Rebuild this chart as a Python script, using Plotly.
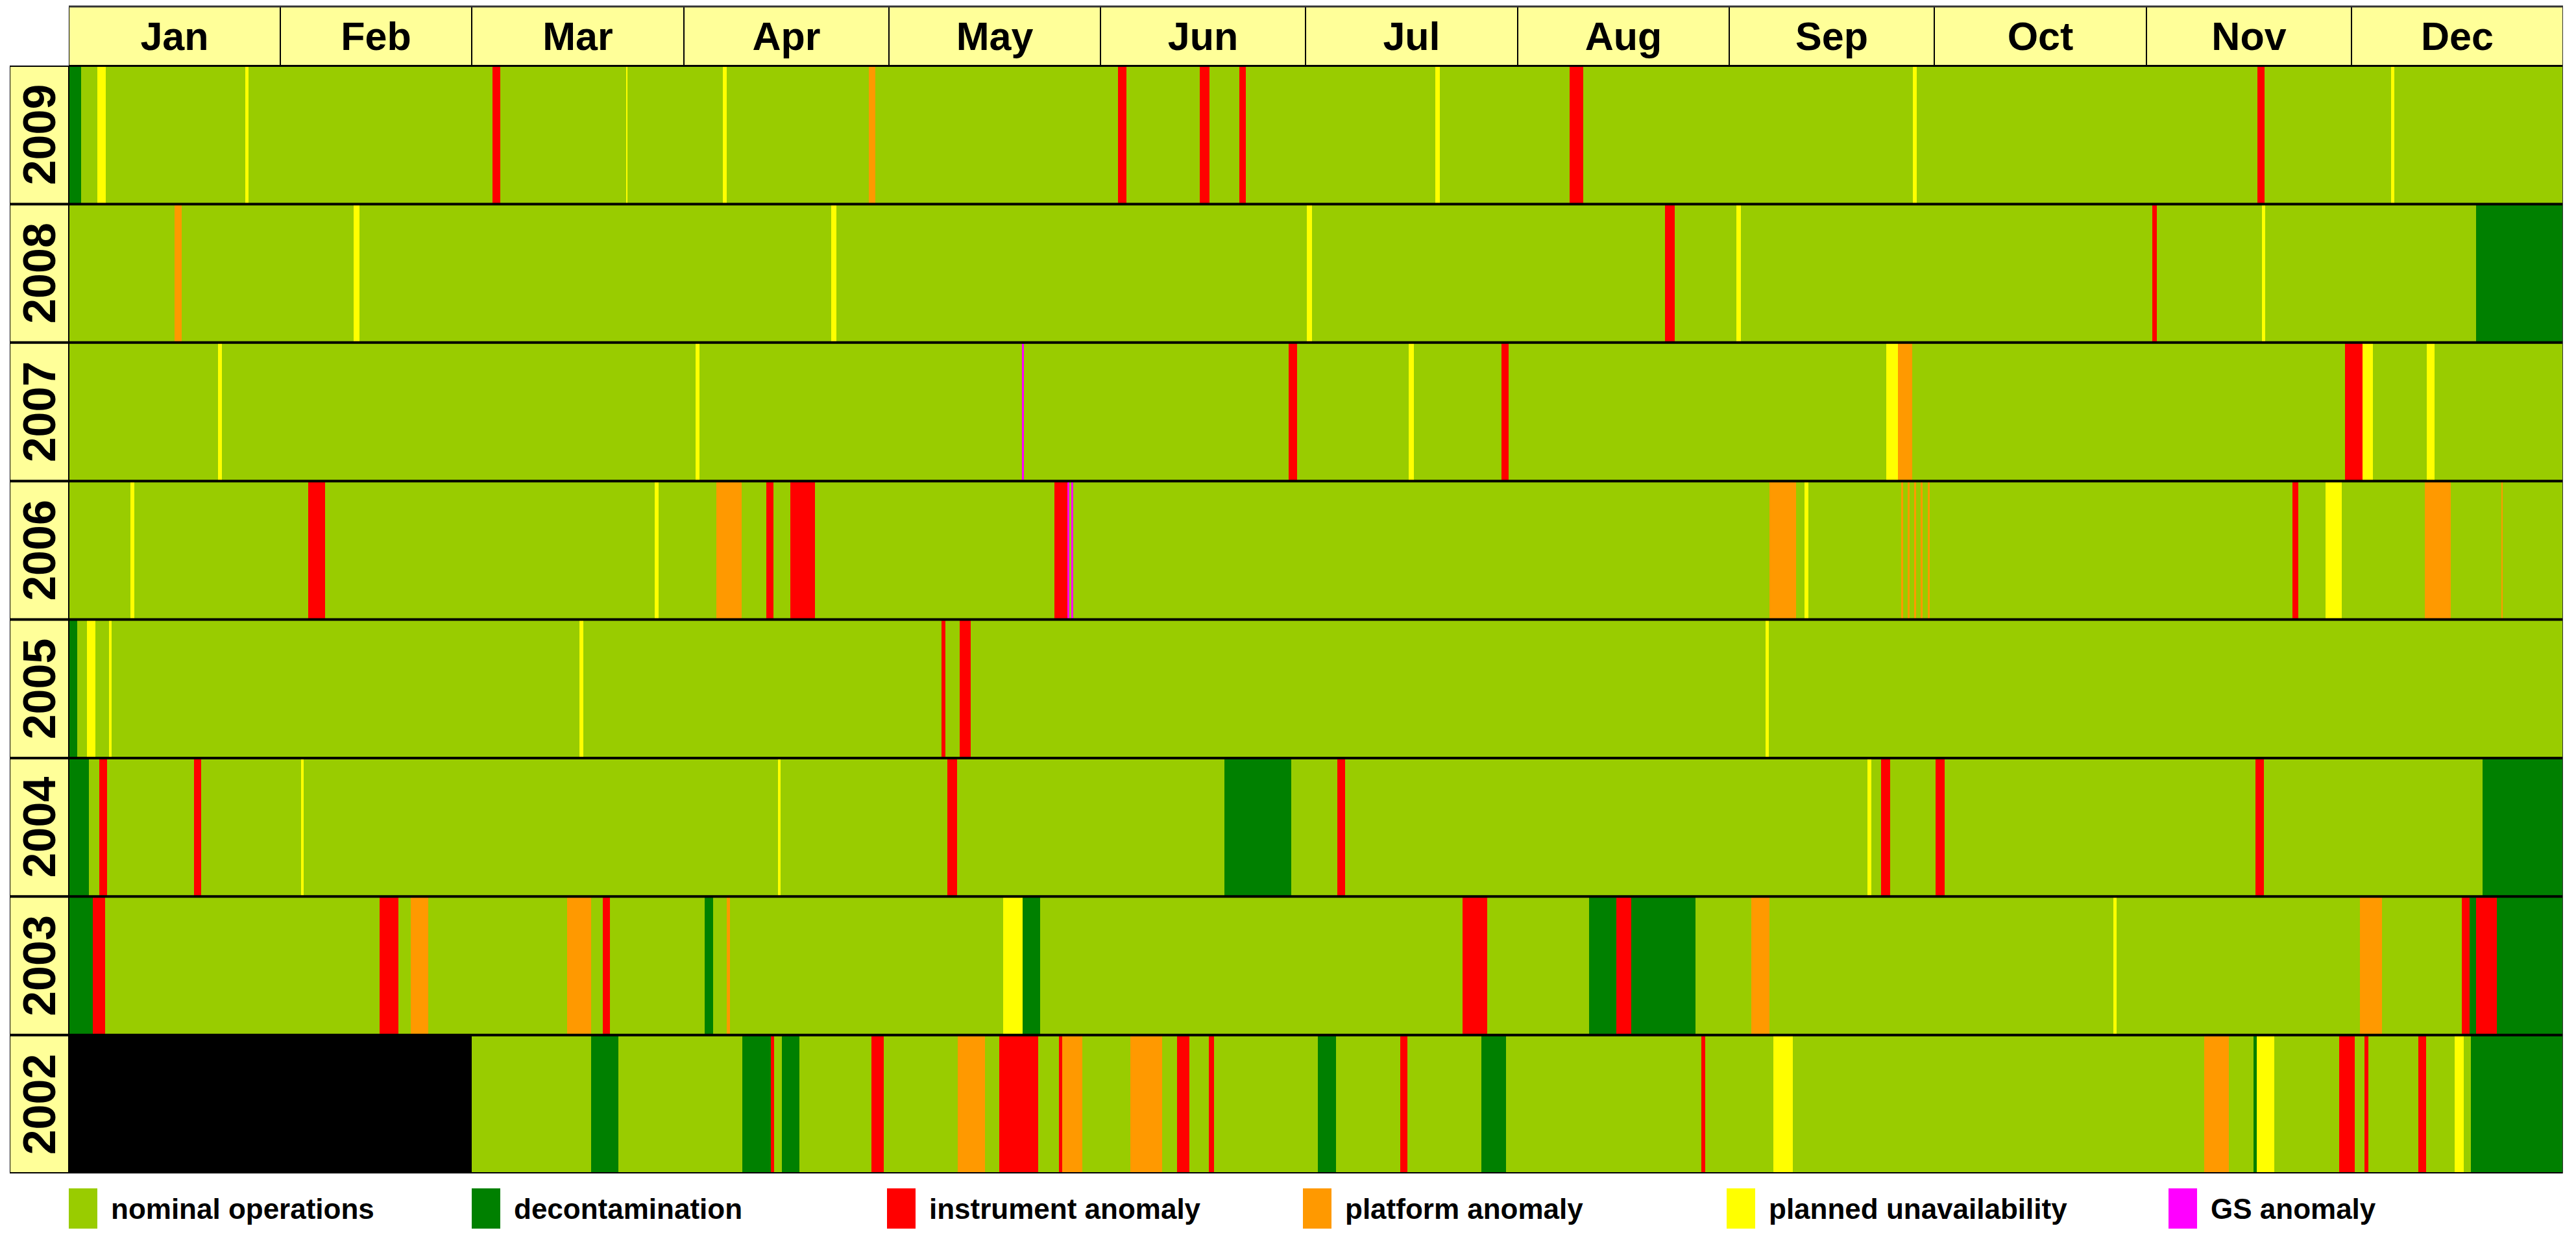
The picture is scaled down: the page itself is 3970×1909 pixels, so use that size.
import plotly.graph_objects as go

# ---------------- data ----------------
years = ["2002", "2003", "2004", "2005", "2006", "2007", "2008", "2009"]
months = ["Jan", "Feb", "Mar", "Apr", "May", "Jun", "Jul", "Aug", "Sep", "Oct", "Nov", "Dec"]
month_days = [31, 28, 31, 30, 31, 30, 31, 31, 30, 31, 30, 31]
year_length = 365

# (year, start day-of-year, duration in days)
not_operational = [("2002", 0.0, 59.0)]

decontamination = [
    ("2009", 0.0, 1.8),
    ("2008", 352.3, 12.7),
    ("2005", 0.0, 1.2),
    ("2004", 0.0, 2.9), ("2004", 169.1, 9.8), ("2004", 353.2, 11.8),
    ("2003", 0.0, 3.5), ("2003", 93.1, 1.2), ("2003", 139.6, 2.5), ("2003", 222.5, 4.0),
    ("2003", 228.6, 9.4), ("2003", 351.3, 1.0), ("2003", 355.3, 9.7),
    ("2002", 76.4, 4.0), ("2002", 98.6, 4.1), ("2002", 104.4, 2.5), ("2002", 182.8, 2.6),
    ("2002", 206.7, 3.6), ("2002", 319.7, 0.5), ("2002", 351.5, 13.5),
]

instrument_anomaly = [
    ("2009", 62.0, 1.1), ("2009", 153.5, 1.3), ("2009", 165.5, 1.4), ("2009", 171.3, 0.9),
    ("2009", 219.6, 2.0), ("2009", 320.3, 1.0),
    ("2008", 233.6, 1.4), ("2008", 304.9, 0.7),
    ("2007", 178.5, 1.2), ("2007", 209.7, 1.0), ("2007", 333.1, 2.6),
    ("2006", 35.0, 2.5), ("2006", 102.1, 1.0), ("2006", 105.6, 3.6), ("2006", 144.2, 1.9),
    ("2006", 325.4, 0.9),
    ("2005", 127.7, 0.6), ("2005", 130.4, 1.6),
    ("2004", 4.5, 1.1), ("2004", 18.3, 1.1), ("2004", 128.6, 1.4), ("2004", 185.6, 1.2),
    ("2004", 265.2, 1.3), ("2004", 273.2, 1.3), ("2004", 320.0, 1.2),
    ("2003", 3.5, 1.8), ("2003", 45.5, 2.7), ("2003", 78.1, 1.1), ("2003", 204.0, 3.6),
    ("2003", 226.5, 2.1), ("2003", 350.2, 1.1), ("2003", 352.3, 3.0),
    ("2002", 102.7, 0.5), ("2002", 117.5, 1.8), ("2002", 136.2, 5.7), ("2002", 144.9, 0.5),
    ("2002", 162.2, 1.8), ("2002", 166.8, 0.8), ("2002", 194.8, 1.1), ("2002", 238.9, 0.6),
    ("2002", 332.2, 2.3), ("2002", 335.9, 0.6), ("2002", 343.8, 1.2),
]

platform_anomaly = [
    ("2009", 117.1, 0.9),
    ("2008", 15.5, 1.0),
    ("2007", 267.7, 2.1),
    ("2006", 94.8, 3.7), ("2006", 248.9, 3.9), ("2006", 268.1, 0.3), ("2006", 269.1, 0.3),
    ("2006", 270.0, 0.3), ("2006", 271.0, 0.3), ("2006", 272.0, 0.3), ("2006", 344.8, 3.8),
    ("2006", 356.0, 0.15),
    ("2003", 50.0, 2.6), ("2003", 72.9, 3.5), ("2003", 96.3, 0.5), ("2003", 246.2, 2.7),
    ("2003", 335.3, 3.2),
    ("2002", 130.1, 4.0), ("2002", 145.4, 2.9), ("2002", 155.3, 4.7), ("2002", 312.5, 3.6),
]

planned_unavailability = [
    ("2009", 4.2, 1.2), ("2009", 25.8, 0.5), ("2009", 81.6, 0.15), ("2009", 95.7, 0.6),
    ("2009", 200.0, 0.6), ("2009", 269.9, 0.5), ("2009", 339.8, 0.5),
    ("2008", 41.7, 0.8), ("2008", 111.6, 0.7), ("2008", 181.2, 0.7), ("2008", 244.0, 0.7),
    ("2008", 320.9, 0.5),
    ("2007", 21.8, 0.6), ("2007", 91.7, 0.6), ("2007", 196.1, 0.7), ("2007", 266.0, 1.7),
    ("2007", 335.7, 1.5), ("2007", 345.1, 1.1),
    ("2006", 9.0, 0.6), ("2006", 85.7, 0.6), ("2006", 254.0, 0.6), ("2006", 330.2, 2.4),
    ("2005", 2.7, 1.2), ("2005", 5.9, 0.4), ("2005", 74.7, 0.6), ("2005", 248.3, 0.5),
    ("2004", 34.0, 0.4), ("2004", 103.8, 0.4), ("2004", 263.2, 0.6),
    ("2003", 136.7, 2.9), ("2003", 299.2, 0.5),
    ("2002", 249.4, 2.9), ("2002", 320.2, 2.5), ("2002", 349.1, 1.4),
]

gs_anomaly = [("2007", 139.5, 0.3), ("2006", 146.1, 0.35), ("2006", 146.7, 0.3)]

legend_labels = ["nominal operations", "decontamination", "instrument anomaly",
                 "platform anomaly", "planned unavailability", "GS anomaly"]

# ---------------- styles ----------------
C_NOMINAL = "#99CC00"
C_DECON = "#008000"
C_INSTR = "#FF0000"
C_PLATF = "#FF9900"
C_PLANNED = "#FFFF00"
C_GS = "#FF00FF"
C_NONE = "#000000"
C_HEAD = "#FFFF99"
legend_colors = [C_NOMINAL, C_DECON, C_INSTR, C_PLATF, C_PLANNED, C_GS]

FONT = "Liberation Sans, Arial, sans-serif"

W, H = 3970, 1909
ML, MR, MT, MB = 15, 20, 10, 101
PW, PH = W - ML - MR, H - MT - MB
x_split = (106 - ML) / PW           # label column | data area
y_split = (1808 - 101) / PH         # rows | month header

fig = go.Figure()


def add_events(events, color, name):
    fig.add_trace(go.Bar(
        y=[e[0] for e in events], base=[e[1] for e in events], x=[e[2] for e in events],
        orientation="h", width=1, name=name, showlegend=False,
        marker=dict(color=color, line=dict(width=0)),
        xaxis="x", yaxis="y", hoverinfo="skip"))


# nominal background for every year
add_events([(y, 0.0, year_length) for y in years], C_NOMINAL, "nominal operations")
add_events(not_operational, C_NONE, "not operational")
add_events(decontamination, C_DECON, "decontamination")
add_events(platform_anomaly, C_PLATF, "platform anomaly")
add_events(planned_unavailability, C_PLANNED, "planned unavailability")
add_events(instrument_anomaly, C_INSTR, "instrument anomaly")
add_events(gs_anomaly, C_GS, "GS anomaly")

# month header
month_starts = [sum(month_days[:i]) for i in range(len(month_days))]
fig.add_trace(go.Bar(
    y=["m"] * len(months), base=month_starts, x=month_days, orientation="h", width=1,
    marker=dict(color=C_HEAD, line=dict(color="black", width=2)),
    text=["<b>%s</b>" % m for m in months], textposition="inside", insidetextanchor="middle",
    textangle=0, constraintext="none",
    textfont=dict(family=FONT, size=61, color="black"),
    xaxis="x", yaxis="y2", showlegend=False, hoverinfo="skip"))

# year label column
fig.add_trace(go.Bar(
    y=years, base=[0] * len(years), x=[1] * len(years), orientation="h", width=1,
    marker=dict(color=C_HEAD, line=dict(color="black", width=2)),
    text=["<b>%s</b>" % y for y in years], textposition="inside", insidetextanchor="middle",
    textangle=-90, constraintext="none",
    textfont=dict(family=FONT, size=70, color="black"),
    xaxis="x2", yaxis="y", showlegend=False, hoverinfo="skip"))

shapes = []
# row separators
for k in range(len(years) + 1):
    shapes.append(dict(type="line", xref="paper", yref="y", x0=0, x1=1,
                       y0=k - 0.5, y1=k - 0.5, line=dict(color="black", width=4), layer="above"))
# header top border and right border
shapes.append(dict(type="line", xref="x", yref="paper", x0=0, x1=year_length, y0=1, y1=1,
                   line=dict(color="#333333", width=3), layer="above"))
shapes.append(dict(type="line", xref="x", yref="paper", x0=year_length, x1=year_length, y0=0, y1=1,
                   line=dict(color="#333333", width=2), layer="above"))
shapes.append(dict(type="line", xref="x", yref="paper", x0=0, x1=0, y0=0, y1=y_split,
                   line=dict(color="black", width=2), layer="above"))

annotations = []
# legend
sw_left = [106, 727, 1367, 2008, 2661, 3342]
for lab, col, xl in zip(legend_labels, legend_colors, sw_left):
    px0 = (xl - ML) / PW
    px1 = (xl + 44 - ML) / PW
    shapes.append(dict(type="rect", xref="paper", yref="paper", x0=px0, x1=px1,
                       y0=(1808 - 1831) / PH, y1=(1808 - 1893) / PH,
                       fillcolor=col, line=dict(width=0)))
    annotations.append(dict(xref="paper", yref="paper", x=(xl + 63 - ML) / PW,
                            y=(1808 - 1862) / PH, xanchor="left", yanchor="middle",
                            text="<b>%s</b>" % lab, showarrow=False,
                            font=dict(family=FONT, size=44, color="black")))

fig.update_layout(
    width=W, height=H, margin=dict(l=ML, r=MR, t=MT, b=MB, pad=0),
    paper_bgcolor="white", plot_bgcolor="white", barmode="overlay", bargap=0,
    showlegend=False, shapes=shapes, annotations=annotations,
    xaxis=dict(domain=[x_split, 1], range=[0, year_length], anchor="y", visible=False,
               showgrid=False, zeroline=False, fixedrange=True),
    yaxis=dict(domain=[0, y_split], type="category", categoryorder="array",
               categoryarray=years, range=[-0.5, len(years) - 0.5], anchor="x",
               visible=False, showgrid=False, fixedrange=True),
    xaxis2=dict(domain=[0, x_split], range=[0, 1], anchor="y", visible=False,
                showgrid=False, zeroline=False, fixedrange=True),
    yaxis2=dict(domain=[y_split, 1], type="category", range=[-0.5, 0.5], anchor="x",
                visible=False, showgrid=False, fixedrange=True),
)

fig.write_html("out.html", config={"displayModeBar": False},
               post_script="document.body.style.margin='0';document.body.style.overflow='hidden';")
